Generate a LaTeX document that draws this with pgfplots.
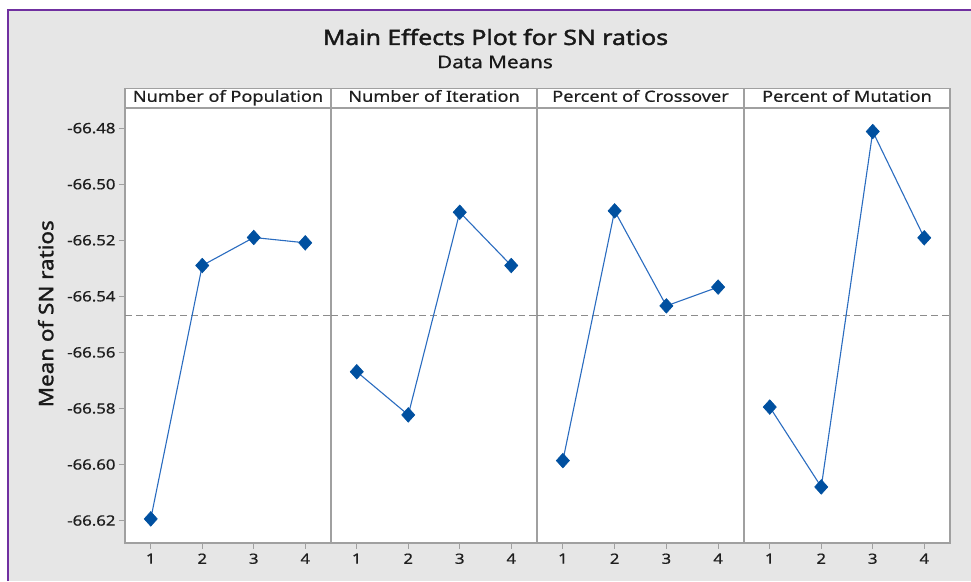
\documentclass[border=0pt]{standalone}
\usepackage{fontspec}
\setmainfont{Noto Sans}[FakeStretch=1.18, FakeBold=0.6]
\newfontfamily\titlefont{Noto Sans}[FakeStretch=1.18, FakeBold=1.8]
\newfontfamily\labelfont{Noto Sans}[FakeStretch=1.12, FakeBold=1.4]
\usepackage{pgfplots}
\pgfplotsset{compat=1.18}
\definecolor{bggray}{HTML}{E6E6E6}
\definecolor{framegray}{HTML}{A0A0A0}
\definecolor{border}{HTML}{7030A0}
\definecolor{lineblue}{HTML}{2A6CC0}
\definecolor{markblue}{HTML}{0050A0}
\definecolor{refgray}{HTML}{8C8C8C}
\tikzset{
  header/.style={draw=framegray, line width=1.2pt, fill=white, minimum width=206pt,
    minimum height=19pt, inner sep=0pt, anchor=south, text height=11pt, text depth=3.2pt,
    font=\fontsize{15.4}{18}\selectfont, text=black!88},
  datline/.style={lineblue, line width=1.1pt, mark=diamond*, mark size=7.3pt,
    mark options={markblue, fill=markblue, xscale=1.2, line width=0.6pt, rounded corners=1.8pt}},
  refline/.style={refgray, line width=1pt, dash pattern=on 7pt off 4pt},
}
\pgfplotsset{
  panel/.style={
    anchor=south west,
    width=206pt, height=435pt, scale only axis,
    xmin=0.5, xmax=4.5, ymin=-66.628, ymax=-66.4728,
    clip=false,
    axis background/.style={fill=white},
    axis line style={framegray, line width=1.2pt},
    tick style={framegray, line width=1pt},
    tick align=outside, major tick length=6pt,
    xtick={1,2,3,4}, xticklabels={1,2,3,4}, xtick pos=bottom,
    ticklabel style={font=\fontsize{14.2}{17}\selectfont, text=black!88},
    xticklabel style={yshift=-1pt},
  },
}
\begin{document}
\begin{tikzpicture}[x=1pt,y=1pt]
\path[use as bounding box] (0,0) rectangle (971,581);
\fill[white] (0,0) rectangle (971,581);
\fill[bggray] (8,0) rectangle (971,571);
\draw[border, line width=2pt] (8,0) -- (8,571) -- (971,571);
\node[font=\titlefont\fontsize{21}{24}\selectfont, text=black!90] at (495.5,544) {Main Effects Plot for SN ratios};
\node[font=\fontsize{17.5}{20}\selectfont, text=black!90] at (495,519) {Data Means};

\begin{axis}[panel, at={(125pt,38pt)},
  ytick={-66.62,-66.60,-66.58,-66.56,-66.54,-66.52,-66.50,-66.48},
  yticklabels={-66.62,-66.60,-66.58,-66.56,-66.54,-66.52,-66.50,-66.48},
  ytick pos=left,
  ylabel={Mean of SN ratios},
  ylabel style={at={(axis description cs:-0.385,0.527)}, anchor=center, font=\labelfont\fontsize{20}{24}\selectfont, text=black!90},
]
\addplot[refline] coordinates {(0.5,-66.547) (4.5,-66.547)};
\addplot[datline] coordinates {(1,-66.6194) (2,-66.5290) (3,-66.5190) (4,-66.5209)};
\node[header] at (rel axis cs:0.5,1) {Number of Population};
\end{axis}

\begin{axis}[panel, at={(331pt,38pt)}, ytick=\empty]
\addplot[refline] coordinates {(0.5,-66.547) (4.5,-66.547)};
\addplot[datline] coordinates {(1,-66.5669) (2,-66.5823) (3,-66.5100) (4,-66.5290)};
\node[header] at (rel axis cs:0.5,1) {Number of Iteration};
\end{axis}

\begin{axis}[panel, at={(537pt,38pt)}, width=207pt, ytick=\empty]
\addplot[refline] coordinates {(0.5,-66.547) (4.5,-66.547)};
\addplot[datline] coordinates {(1,-66.5986) (2,-66.5095) (3,-66.5434) (4,-66.5367)};
\node[header, minimum width=207pt] at (rel axis cs:0.5,1) {Percent of Crossover};
\end{axis}

\begin{axis}[panel, at={(744pt,38pt)}, ytick=\empty]
\addplot[refline] coordinates {(0.5,-66.547) (4.5,-66.547)};
\addplot[datline] coordinates {(1,-66.5795) (2,-66.6080) (3,-66.4812) (4,-66.5191)};
\node[header] at (rel axis cs:0.5,1) {Percent of Mutation};
\end{axis}
\end{tikzpicture}
\end{document}
